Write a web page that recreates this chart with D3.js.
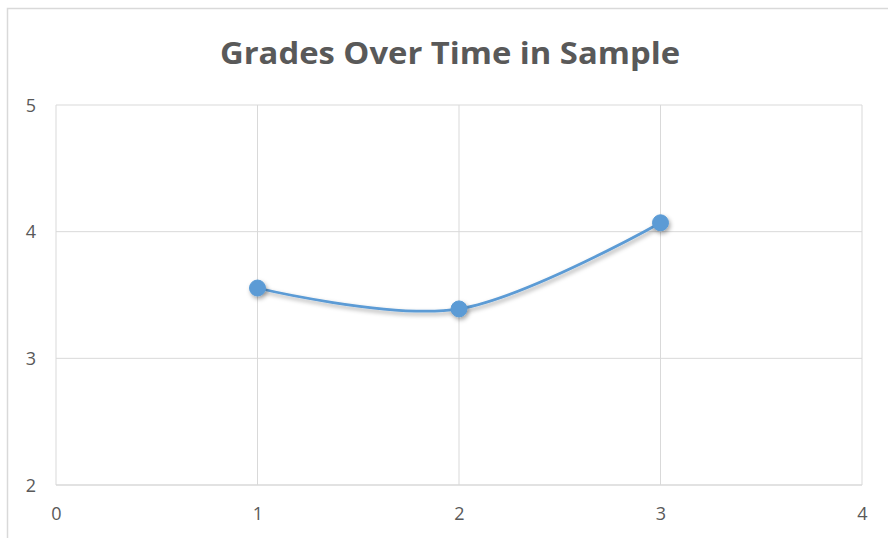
<!DOCTYPE html>
<html>
<head>
<meta charset="utf-8">
<script src="https://cdn.jsdelivr.net/npm/d3@7"></script>
<style>
  html, body { margin: 0; padding: 0; background: #fff; }
  svg { display: block; }
  text { font-family: "Open Sans", "Liberation Sans", sans-serif; }
</style>
</head>
<body>
<div id="chart"></div>
<script>
const title = "Grades Over Time in Sample";
const times = [1, 2, 3];
const grades = [3.555, 3.39, 4.07];
const xTicks = [0, 1, 2, 3, 4];
const yTicks = [2, 3, 4, 5];

const W = 888, H = 538;
const margin = { left: 56, right: 26, top: 105, bottom: 53 };

const svg = d3.select("#chart").append("svg").attr("width", W).attr("height", H);

const defs = svg.append("defs");
const f = defs.append("filter").attr("id", "shadow").attr("x", "-50%").attr("y", "-50%").attr("width", "200%").attr("height", "200%");
f.append("feDropShadow").attr("dx", 1.5).attr("dy", 2.5).attr("stdDeviation", 2).attr("flood-color", "#000").attr("flood-opacity", 0.35);

// chart border
svg.append("rect").attr("x", 7.5).attr("y", 8.5).attr("width", W + 20).attr("height", H + 20)
  .attr("fill", "#fff").attr("stroke", "#d9d9d9").attr("stroke-width", 1.5);

const x = d3.scaleLinear().domain([0, 4]).range([margin.left, W - margin.right]);
const y = d3.scaleLinear().domain([2, 5]).range([H - margin.bottom, margin.top]);

// gridlines
svg.append("g").selectAll("line.v").data(xTicks).join("line")
  .attr("x1", d => x(d)).attr("x2", d => x(d))
  .attr("y1", y(5)).attr("y2", y(2))
  .attr("stroke", "#d9d9d9").attr("stroke-width", 1);
svg.append("g").selectAll("line.h").data(yTicks).join("line")
  .attr("x1", x(0)).attr("x2", x(4))
  .attr("y1", d => y(d)).attr("y2", d => y(d))
  .attr("stroke", "#d9d9d9").attr("stroke-width", d => d === 2 ? 1.5 : 1);

// axes labels via d3 axes
const xAxis = svg.append("g").attr("transform", `translate(0,${y(2)})`)
  .call(d3.axisBottom(x).tickValues(xTicks).tickSize(0).tickPadding(22).tickFormat(d3.format("d")));
xAxis.select(".domain").remove();
xAxis.selectAll("text").attr("fill", "#595959").attr("font-size", 18);

const yAxis = svg.append("g").attr("transform", `translate(${x(0)},0)`)
  .call(d3.axisLeft(y).tickValues(yTicks).tickSize(0).tickPadding(20).tickFormat(d3.format("d")));
yAxis.select(".domain").remove();
yAxis.selectAll("text").attr("fill", "#595959").attr("font-size", 18).attr("dy", "0.35em");

// title
svg.append("text").attr("x", 450).attr("y", 64).attr("text-anchor", "middle")
  .attr("font-size", 30).attr("font-weight", 700).attr("fill", "#595959")
  .attr("textLength", 460).attr("lengthAdjust", "spacingAndGlyphs")
  .text(title);

const data = times.map((t, i) => ({ t, g: grades[i] }));
const line = d3.line().x(d => x(d.t)).y(d => y(d.g)).curve(d3.curveCardinal.tension(0));

svg.append("path").datum(data).attr("d", line)
  .attr("fill", "none").attr("stroke", "#5b9bd5").attr("stroke-width", 2.75)
  .attr("filter", "url(#shadow)");

svg.append("g").selectAll("circle").data(data).join("circle")
  .attr("cx", d => x(d.t)).attr("cy", d => y(d.g)).attr("r", 8)
  .attr("fill", "#5b9bd5").attr("stroke", "#5b9bd5").attr("stroke-width", 1)
  .attr("filter", "url(#shadow)");
</script>
</body>
</html>
